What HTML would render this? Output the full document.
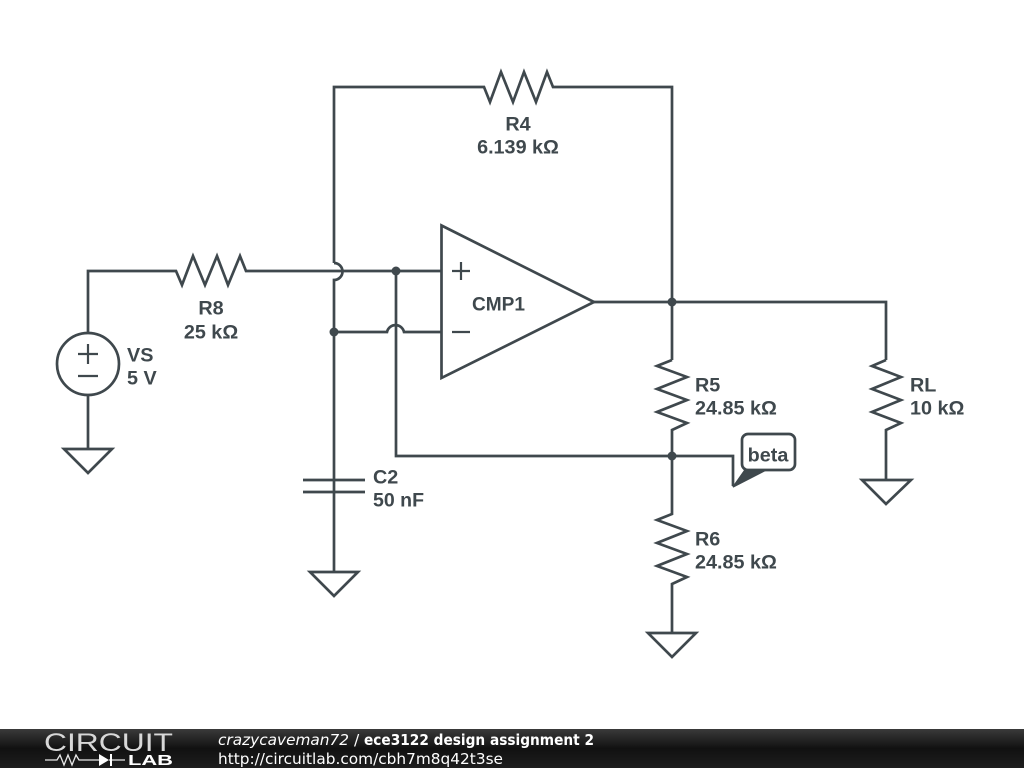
<!DOCTYPE html>
<html><head><meta charset="utf-8"><style>
html,body{margin:0;padding:0;background:#fff}
svg{display:block}
.l{font:bold 19.8px "Liberation Sans",sans-serif;fill:#3f484d}
.f{font:15.5px "DejaVu Sans",sans-serif;fill:#fff}
</style></head><body>
<svg width="1024" height="768" viewBox="0 0 1024 768" xmlns="http://www.w3.org/2000/svg">
<defs><linearGradient id="g" x1="0" y1="0" x2="0" y2="1"><stop offset="0" stop-color="#3a3a3a"/><stop offset="0.5" stop-color="#111"/><stop offset="1" stop-color="#1e1e1e"/></linearGradient></defs>
<rect width="1024" height="768" fill="#fff"/>
<g fill="none" stroke="#3f484d" stroke-width="2.7" stroke-linejoin="miter">
<!-- R4 loop -->
<path d="M334 263V87H484L490 102L501 72L513 102L524 72L536 102L547 72L553 87H672V360"/>
<!-- R8 wire -->
<path d="M88 333V271H176L182 285L193 256L205 285L217 256L228 285L240 256L246 271H442"/>
<!-- hop over +input -->
<path d="M334 263A8.5 8.5 0 0 1 334 280V572" />
<!-- minus input -->
<path d="M334 332H387A8.7 8.7 0 0 1 404 332H442"/>
<!-- beta wire -->
<path d="M396 271V456H733V486"/>
<!-- opamp -->
<path d="M441.5 225.500V378L594 302Z"/>
<path d="M594 302H886V360"/>
<!-- R5 -->
<path d="M672 360L657 366L687 377L657 389L687 400L657 412L687 423L672 430V456"/>
<!-- R6 -->
<path d="M672 456V514L657 520L687 531L657 543L687 554L657 566L687 577L672 584V633"/>
<!-- RL -->
<path d="M886 360L872 366L901 377L872 389L901 400L872 412L901 423L886 430V480"/>
<!-- VS -->
<circle cx="88" cy="364" r="31"/>
<path d="M88 395V449"/>
<!-- C2 -->
<path d="M303 480H365M303 492H365"/>
<!-- grounds -->
<path d="M64 449H112L88 473Z"/>
<path d="M310 572H358L334 596Z"/>
<path d="M648 633H696L672 657Z"/>
<path d="M862 480H911L886 504Z"/>
<!-- beta bubble -->
<rect x="742" y="434" width="53" height="36" rx="6" fill="#fff"/>
</g>
<path d="M452 271H470M461 262V280M452 332H470M78 354H98M88 344V364M78 376H98" fill="none" stroke="#3f484d" stroke-width="2.2"/>
<path d="M733 487L745 470H766Z" fill="#3f484d" stroke="#3f484d" stroke-width="1.5"/>
<g fill="#3f484d"><circle cx="396" cy="271" r="4.5"/><circle cx="334" cy="332" r="4.5"/><circle cx="672" cy="302" r="4.5"/><circle cx="672" cy="456" r="4.5"/></g>
<g transform="translate(0 0.5)">
<text class="l" x="518" y="130" text-anchor="middle">R4</text>
<text class="l" x="518" y="153" text-anchor="middle">6.139 kΩ</text>
<text class="l" x="211" y="314" text-anchor="middle">R8</text>
<text class="l" x="211" y="338" text-anchor="middle">25 kΩ</text>
<text class="l" x="127" y="361">VS</text>
<text class="l" x="127" y="384">5 V</text>
<text class="l" x="472" y="310" textLength="53" lengthAdjust="spacingAndGlyphs">CMP1</text>
<text class="l" x="695" y="391">R5</text>
<text class="l" x="695" y="414">24.85 kΩ</text>
<text class="l" x="695" y="545">R6</text>
<text class="l" x="695" y="568">24.85 kΩ</text>
<text class="l" x="910" y="391">RL</text>
<text class="l" x="910" y="414">10 kΩ</text>
<text class="l" x="373" y="483">C2</text>
<text class="l" x="373" y="506" textLength="51" lengthAdjust="spacingAndGlyphs">50 nF</text>
<text class="l" x="768" y="461" text-anchor="middle">beta</text>
</g>
<!-- footer -->
<rect y="729" width="1024" height="39" fill="url(#g)"/>
<text x="44" y="751" font-family="Liberation Sans,sans-serif" font-size="25" fill="#d8d8d8" textLength="129" lengthAdjust="spacingAndGlyphs">CIRCUIT</text>
<path d="M45 760H57L60 755L64 765L68 755L72 765L76 755L79 760H99M109 760H125" fill="none" stroke="#e8e8e8" stroke-width="1.3"/>
<path d="M99 754V766L109 760ZM110 754H112V766H110Z" fill="#fff"/>
<text x="128" y="765" font-family="Liberation Sans,sans-serif" font-weight="bold" font-size="15" fill="#fff" textLength="45" lengthAdjust="spacingAndGlyphs">LAB</text>
<text class="f" x="218" y="745" style="font-style:italic" textLength="131" lengthAdjust="spacingAndGlyphs">crazycaveman72</text>
<text class="f" x="354" y="745">/</text>
<text class="f" x="364" y="745" style="font-weight:bold" textLength="230" lengthAdjust="spacingAndGlyphs">ece3122 design assignment 2</text>
<text class="f" x="218" y="764" textLength="285" lengthAdjust="spacingAndGlyphs">http://circuitlab.com/cbh7m8q42t3se</text>
</svg>
</body></html>
